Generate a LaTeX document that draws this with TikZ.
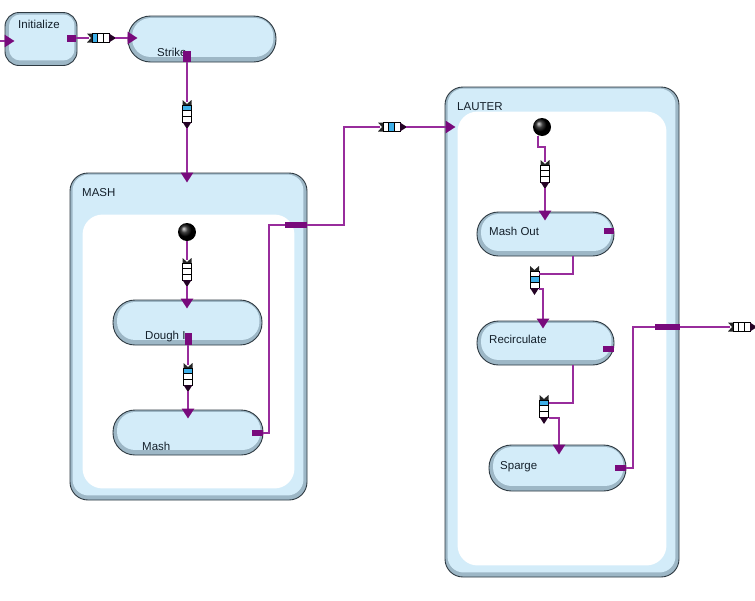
\documentclass[tikz,border=0pt]{standalone}
\usepackage{fontspec}
\setmainfont{Liberation Sans}
\usetikzlibrary{calc,arrows.meta}
\definecolor{outl}{HTML}{2E3A42}
\definecolor{band}{HTML}{9DB7C6}
\definecolor{lite}{HTML}{D3ECF9}
\definecolor{lnp}{HTML}{982C9C}
\definecolor{dkp}{HTML}{780A7C}
\definecolor{tokcyan}{HTML}{3FB0E8}
\definecolor{txt}{HTML}{14202B}
\tikzset{
  stbox/.style={draw=outl, line width=0.9pt, fill=band, inner sep=0pt, rectangle},
  lbl/.style={font=\fontsize{11.5}{13}\selectfont, text=txt, inner sep=0pt, anchor=base west},
  port/.style={fill=dkp, inner sep=0pt, rectangle},
  conn/.style={draw=lnp, line width=2.6pt},
  arr/.style={conn, -{Triangle[width=12pt,length=10pt,color=dkp,fill=dkp]}},
  initdot/.style={circle, minimum size=18pt, inner sep=0pt, shading=ball, ball color=black},
  pics/tokv/.style={code={
    \fill[black!85] (-4.5,0) -- (0,4) -- (4.5,0) -- (4.5,5.5) -- (-4.5,5.5) -- cycle;
    \fill[white] (-4.5,5) rectangle (4.5,22);
    \ifcase#1\or
      \fill[tokcyan] (-4.5,5) rectangle (4.5,10.7);
    \or
      \fill[tokcyan] (-4.5,10.7) rectangle (4.5,16.3);
    \or
      \fill[tokcyan] (-4.5,16.3) rectangle (4.5,22);
    \fi
    \draw[black, line width=0.6pt] (-4.5,5) rectangle (4.5,22) (-4.5,10.7) -- (4.5,10.7) (-4.5,16.3) -- (4.5,16.3);
    \fill[black!70!dkp] (-4.5,22) -- (4.5,22) -- (0,29) -- cycle;
    \coordinate (-in) at (0,2);
    \coordinate (-out) at (0,28);
    \coordinate (-e1) at (4.5,8);
    \coordinate (-e2) at (4.5,23);
  }},
}
\newcommand\mkstate[7]{%
  \node[stbox, minimum width=#4pt, minimum height=#5pt, rounded corners=#6pt] (#1) at (#2,#3) {};
  \fill[lite, rounded corners=#7pt] ($(#1.north west)+(4.5,2.5)$) rectangle ($(#1.south east)+(-3,-5.5)$);
}
\newcommand\mkcomp[6]{%
  \node[stbox, minimum width=#4pt, minimum height=#5pt, rounded corners=18pt] (#1) at (#2,#3) {};
  \fill[lite, rounded corners=16pt] ($(#1.north west)+(3,2)$) rectangle ($(#1.south east)+(-4,-5)$);
  \fill[white, rounded corners=20pt] ($(#1.north west)+(13,#6)$) rectangle ($(#1.south east)+(-13,-12)$);
}
\begin{document}
\begin{tikzpicture}[x=1pt,y=-1pt]
\useasboundingbox (0,0) rectangle (755,600);
\fill[white] (0,0) rectangle (755,600);

\mkstate{init}{41}{39}{72}{53}{14}{11}
\mkstate{strike}{202}{39}{148}{46}{22.5}{18.5}
\mkcomp{mash}{188.5}{336.5}{237}{327}{42}
\mkcomp{lauter}{562}{332}{234}{490}{25}
\mkstate{dough}{187.5}{322.5}{149}{45}{22}{18}
\mkstate{mashst}{188}{432.5}{150}{45}{22}{18}
\mkstate{mashout}{545.5}{234}{137}{44}{21.5}{17.5}
\mkstate{recirc}{545.5}{343}{137}{44}{21.5}{17.5}
\mkstate{sparge}{557.5}{468}{137}{46}{22.5}{18.5}

\node[lbl] (linit) at (18,28) {Initialize};
\node[lbl] (lstrike) at (157,56) {Strike};
\node[lbl] (lmash) at (82,196) {MASH};
\node[lbl] (ldough) at (145,339) {Dough I};
\node[lbl] (lmashst) at (142,450) {Mash};
\node[lbl] (llauter) at (457,110) {LAUTER};
\node[lbl] (lmashout) at (489,235) {Mash Out};
\node[lbl] (lrecirc) at (489,343) {Recirculate};
\node[lbl] (lsparge) at (500,469) {Sparge};

\node[port, minimum width=9pt, minimum height=7pt] (pinit) at (71.5,38) {};
\node[port, minimum width=8pt, minimum height=11pt] (pstrike) at (187,56) {};
\node[port, minimum width=7pt, minimum height=12pt] (pdough) at (188,339) {};
\node[port, minimum width=11pt, minimum height=6pt] (pmash) at (257.5,433) {};
\node[port, minimum width=22pt, minimum height=6pt] (pmexit) at (296,225) {};
\node[port, minimum width=10pt, minimum height=6pt] (pmashout) at (609,231) {};
\node[port, minimum width=11pt, minimum height=6pt] (precirc) at (608.5,349) {};
\node[port, minimum width=11pt, minimum height=6pt] (psparge) at (620.5,468) {};
\node[port, minimum width=25pt, minimum height=6pt] (plexit) at (667.5,327) {};

\node[initdot] (i1) at (187,232) {};
\node[initdot] (i2) at (542,127) {};

\pic[rotate=90] (t1) at (87,38) {tokv=1};
\pic (t2) at (187,100) {tokv=1};
\pic (t3) at (187,258) {tokv=0};
\pic (t4) at (188,363) {tokv=1};
\pic[rotate=90] (t5) at (378,127) {tokv=2};
\pic (t6) at (545,160) {tokv=0};
\pic (t7) at (534.5,266) {tokv=2};
\pic (t8) at (544,395) {tokv=1};
\pic[rotate=90] (t9) at (728,327) {tokv=0};

\coordinate (in) at (0,41);
\draw[arr] (in) -- ($(init.west |- in)+(10,0)$);
\draw[conn] (pinit.east) -- (t1-in);
\draw[arr] (t1-out) -- ($(strike.west |- t1-out)+(10,0)$);
\draw[conn] (pstrike.south) -- (t2-in);
\draw[arr] (t2-out) -- ($(t2-out |- mash.north)+(0,10)$);
\draw[conn] (i1.south) -- (t3-in);
\draw[arr] (t3-out) -- ($(t3-out |- dough.north)+(0,9)$);
\draw[conn] (pdough.south) -- (t4-in);
\draw[arr] (t4-out) -- ($(t4-out |- mashst.north)+(0,9)$);

\coordinate (c1) at (269,433);
\coordinate (c2) at (344,225);
\draw[conn] (pmash.east) -- (c1) |- (pmexit.west);
\draw[conn] (pmexit.east) -- (c2) |- (t5-in);
\draw[arr] (t5-out) -- ($(lauter.west |- t5-out)+(11,0)$);

\coordinate (c3) at (538,147);
\draw[conn] (i2.south -| c3) -- (c3) -| (t6-in);
\draw[arr] (t6-out) -- ($(t6-out |- mashout.north)+(0,9)$);

\coordinate (c4) at (573,274);
\draw[conn] (mashout.south -| c4) -- (c4) -- (t7-e1);
\coordinate (c5) at (543,289);
\draw[arr] (t7-e2) -- (c5) -- ($(c5 |- recirc.north)+(0,8)$);

\coordinate (c6) at (573,403);
\draw[conn] (recirc.south -| c6) -- (c6) -- (t8-e1);
\coordinate (c7) at (559,418);
\draw[arr] (t8-e2) -- (c7) -- ($(c7 |- sparge.north)+(0,10)$);

\coordinate (c8) at (633,468);
\draw[conn] (psparge.east) -- (c8) |- (plexit.west);
\draw[conn] (plexit.east) -- (t9-in);
\end{tikzpicture}
\end{document}
